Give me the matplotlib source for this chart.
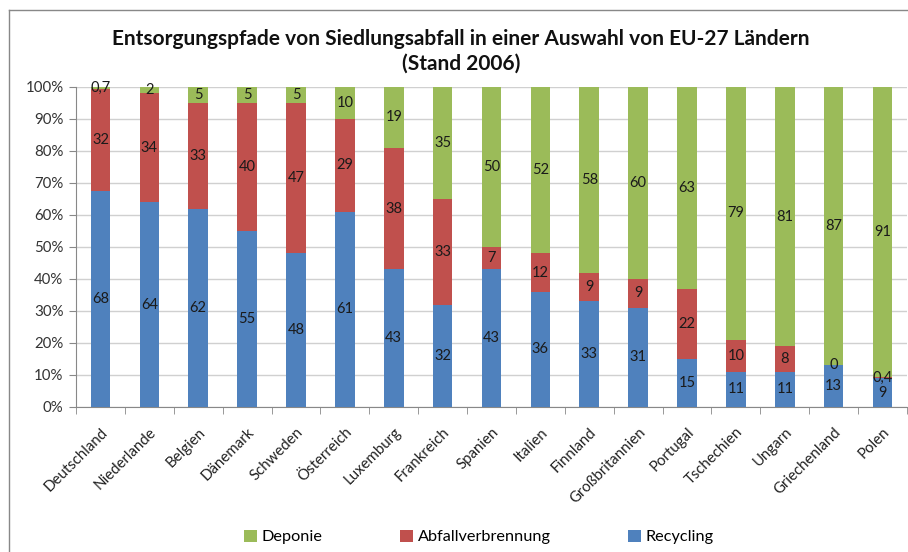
import matplotlib
matplotlib.use("Agg")
import matplotlib.pyplot as plt
from matplotlib.lines import Line2D
from matplotlib.patches import Patch
import numpy as np

countries = ["Deutschland", "Niederlande", "Belgien", "Dänemark", "Schweden",
             "Österreich", "Luxemburg", "Frankreich", "Spanien", "Italien",
             "Finnland", "Großbritannien", "Portugal", "Tschechien", "Ungarn",
             "Griechenland", "Polen"]
recycling = [68, 64, 62, 55, 48, 61, 43, 32, 43, 36, 33, 31, 15, 11, 11, 13, 9]
verbrennung = [32, 34, 33, 40, 47, 29, 38, 33, 7, 12, 9, 9, 22, 10, 8, 0, 0.4]
deponie = [0.7, 2, 5, 5, 5, 10, 19, 35, 50, 52, 58, 60, 63, 79, 81, 87, 91]
yticks = [0, 10, 20, 30, 40, 50, 60, 70, 80, 90, 100]

title = "Entsorgungspfade von Siedlungsabfall in einer Auswahl von EU-27 Ländern\n(Stand 2006)"
series_names = ["Recycling", "Abfallverbrennung", "Deponie"]
colors = ["#4F81BD", "#C0504D", "#9BBB59"]

FONT = "Lato"
plt.rcParams['font.family'] = [FONT, 'DejaVu Sans']

fig = plt.figure(figsize=(9.08, 5.52), dpi=100)
W, H = 908, 552
ax = fig.add_axes([76 / W, 145 / H, (907 - 76) / W, 320 / H])

x = np.arange(len(countries))
series = [np.array(recycling, float), np.array(verbrennung, float), np.array(deponie, float)]
total = series[0] + series[1] + series[2]
bottom = np.zeros(len(countries))
for vals, col in zip(series, colors):
    h = vals / total * 100
    ax.bar(x, h, width=0.4, bottom=bottom, color=col, zorder=3, linewidth=0)
    for xi, b, hi, v in zip(x, bottom, h, vals):
        lab = ("%g" % v).replace(".", ",")
        ax.text(xi, b + hi / 2, lab, ha="center", va="center", fontsize=10.5,
                color="#1a1a1a", zorder=4)
    bottom = bottom + h

ax.set_xlim(-0.5, len(countries) - 0.5)
ax.set_ylim(0, 100)
ax.set_yticks(yticks)
ax.set_yticklabels(["%d%%" % t for t in yticks], fontsize=10.8, color="#333333")
ax.yaxis.grid(True, color="#D0D0D0", linewidth=1, zorder=0)
ax.tick_params(axis="y", length=5, color="#888888", pad=4)

ax.set_xticks(x)
ax.set_xticklabels(countries, rotation=45, ha="right", rotation_mode="anchor",
                   fontsize=10.8, color="#222222")
ax.tick_params(axis="x", which="major", length=0, pad=13)
ax.set_xticks(np.arange(len(countries) + 1) - 0.5, minor=True)
ax.tick_params(axis="x", which="minor", length=5, color="#888888")

for s in ["top", "right"]:
    ax.spines[s].set_visible(False)
for s in ["left", "bottom"]:
    ax.spines[s].set_color("#888888")

fig.text(461 / W, 1 - 51 / H, title, ha="center", va="center", fontsize=15,
         fontweight="bold", linespacing=1.3, color="#111111")

handles = [Patch(facecolor=colors[2]), Patch(facecolor=colors[1]), Patch(facecolor=colors[0])]
labels = [series_names[2], series_names[1], series_names[0]]
fig.legend(handles, labels, loc="center", bbox_to_anchor=(479 / W, 15 / H), ncol=3,
           frameon=False, fontsize=11.7, handlelength=0.75, handleheight=0.75,
           handletextpad=0.3, columnspacing=4.8)

# chart-area border (top and left visible)
fig.add_artist(Line2D([8.5 / W, 8.5 / W], [0, 1 - 9.5 / H], color="#888888", lw=1))
fig.add_artist(Line2D([8.5 / W, 1], [1 - 9.5 / H, 1 - 9.5 / H], color="#888888", lw=1))

fig.savefig("out.png", dpi=100, facecolor="white")
